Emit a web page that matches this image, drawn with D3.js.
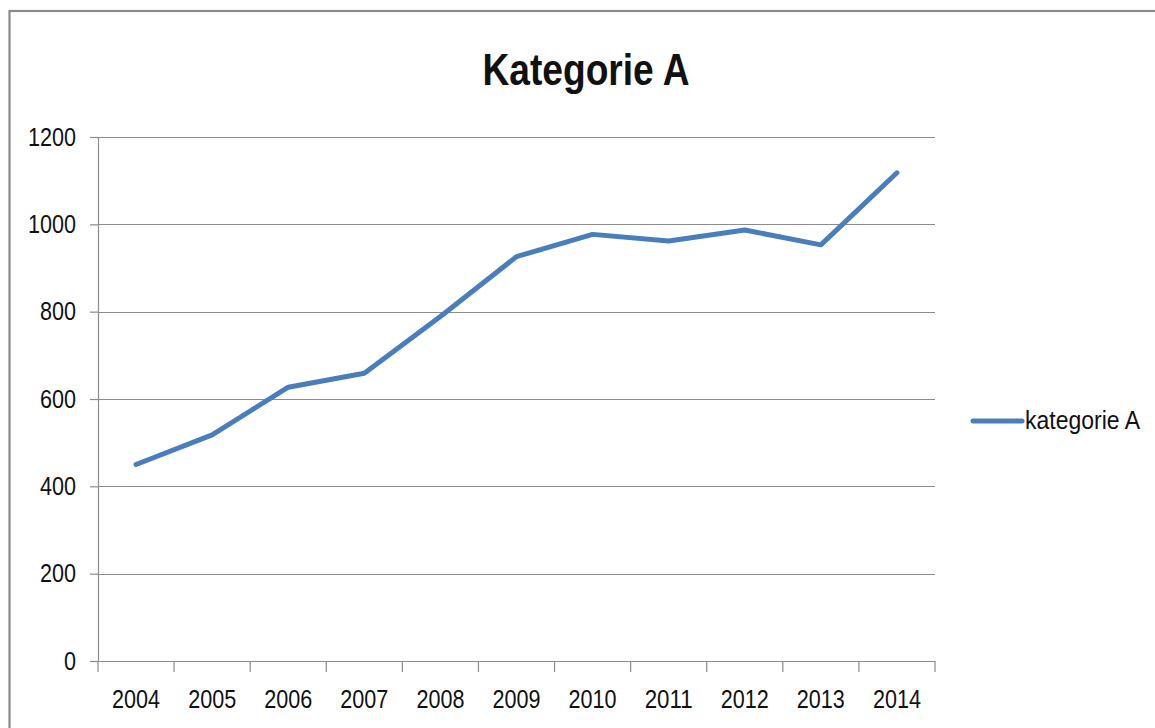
<!DOCTYPE html>
<html>
<head>
<meta charset="utf-8">
<script src="https://cdn.jsdelivr.net/npm/d3@7"></script>
<style>
  html, body { margin: 0; padding: 0; background: #fff; }
  svg { display: block; }
  text { font-family: "Liberation Sans", Arial, sans-serif; fill: #111; }
</style>
</head>
<body>
<svg id="chart" width="1155" height="728"></svg>
<script>
const categories = ["2004","2005","2006","2007","2008","2009","2010","2011","2012","2013","2014"];
const values = [450, 518, 627, 659, 789, 926, 977, 962, 987, 953, 1118];
const yTicks = [0, 200, 400, 600, 800, 1000, 1200];
const seriesName = "kategorie A";
const title = "Kategorie A";

const svg = d3.select("#chart");
const plotLeft = 98, plotRight = 935, plotTop = 137, plotBottom = 661;
const digitW = 12;

// outer border
svg.append("rect")
  .attr("x", 9.5).attr("y", 11).attr("width", 1200).attr("height", 900)
  .attr("fill", "none").attr("stroke", "#8a8a8a").attr("stroke-width", 2.2);

const x = d3.scaleBand().domain(categories).range([plotLeft, plotRight]).padding(0);
const y = d3.scaleLinear().domain([0, 1200]).range([plotBottom, plotTop]);

// gridlines
svg.append("g").selectAll("line").data(yTicks).join("line")
  .attr("x1", plotLeft).attr("x2", plotRight)
  .attr("y1", d => Math.round(y(d)) + 0.5).attr("y2", d => Math.round(y(d)) + 0.5)
  .attr("stroke", "#8c8c8c").attr("stroke-width", 1.2);

// y axis
const yAxis = svg.append("g").attr("transform", `translate(${plotLeft},0)`)
  .call(d3.axisLeft(y).tickValues(yTicks).tickSize(8).tickPadding(14).tickFormat(d3.format("d")));
yAxis.select(".domain").attr("stroke", "#8c8c8c").attr("stroke-width", 1.2);
yAxis.selectAll(".tick line").attr("stroke", "#8c8c8c").attr("stroke-width", 1.2);
yAxis.selectAll("text").attr("font-size", 25).attr("fill", "#111")
  .attr("font-family", '"Liberation Sans", Arial, sans-serif')
  .attr("textLength", d => String(d).length * digitW).attr("lengthAdjust", "spacingAndGlyphs");

// x axis
const xAxis = svg.append("g").attr("transform", `translate(0,${plotBottom})`)
  .call(d3.axisBottom(x).tickSize(0).tickPadding(29));
xAxis.select(".domain").remove();
xAxis.selectAll("text").attr("font-size", 25).attr("fill", "#111")
  .attr("font-family", '"Liberation Sans", Arial, sans-serif')
  .attr("textLength", d => String(d).length * digitW).attr("lengthAdjust", "spacingAndGlyphs");
svg.append("line").attr("x1", plotLeft).attr("x2", plotRight)
  .attr("y1", plotBottom + 0.5).attr("y2", plotBottom + 0.5)
  .attr("stroke", "#8c8c8c").attr("stroke-width", 1.2);
const edges = categories.map(c => x(c)).concat([x(categories[categories.length - 1]) + x.bandwidth()]);
svg.append("g").selectAll("line").data(edges).join("line")
  .attr("x1", d => d).attr("x2", d => d)
  .attr("y1", plotBottom).attr("y2", plotBottom + 11)
  .attr("stroke", "#8c8c8c").attr("stroke-width", 1.2);

// line
const line = d3.line()
  .x((d, i) => x(categories[i]) + x.bandwidth() / 2)
  .y(d => y(d));
svg.append("path").datum(values)
  .attr("d", line)
  .attr("fill", "none").attr("stroke", "#4a7ebb").attr("stroke-width", 5)
  .attr("stroke-linejoin", "round").attr("stroke-linecap", "round");

// title
svg.append("text")
  .attr("x", 586).attr("y", 85).attr("text-anchor", "middle")
  .attr("font-size", 45).attr("font-weight", "bold").attr("fill", "#000")
  .attr("textLength", 207).attr("lengthAdjust", "spacingAndGlyphs")
  .text(title);

// legend
svg.append("line").attr("x1", 973).attr("x2", 1022).attr("y1", 421).attr("y2", 421)
  .attr("stroke", "#4a7ebb").attr("stroke-width", 5).attr("stroke-linecap", "round");
svg.append("text").attr("x", 1025).attr("y", 428.5)
  .attr("font-size", 25).attr("fill", "#111")
  .attr("textLength", 115).attr("lengthAdjust", "spacingAndGlyphs")
  .text(seriesName);
</script>
</body>
</html>
